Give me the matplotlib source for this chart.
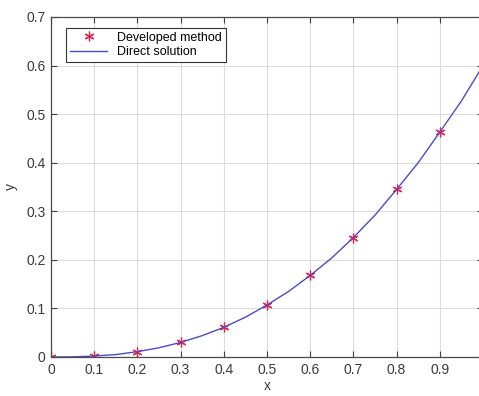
import numpy as np
import matplotlib
matplotlib.use('Agg')
import matplotlib.pyplot as plt

plt.rcParams['font.family'] = ['Liberation Sans', 'DejaVu Sans']

# developed method (markers)
x_dev = [0.0, 0.1, 0.2, 0.3, 0.4, 0.5, 0.6, 0.7, 0.8, 0.9]
y_dev = [0.0, 0.002, 0.011, 0.030, 0.061, 0.107, 0.168, 0.246, 0.345, 0.463]

# direct solution (line)
x_dir = [0.0, 0.05, 0.1, 0.15, 0.2, 0.25, 0.3, 0.35, 0.4, 0.45, 0.5,
         0.55, 0.6, 0.65, 0.7, 0.75, 0.8, 0.85, 0.9, 0.95, 1.0]
y_dir = [0.0, 0.0003, 0.002, 0.005, 0.011, 0.019, 0.030, 0.044, 0.061, 0.082, 0.107,
         0.135, 0.168, 0.204, 0.246, 0.292, 0.345, 0.400, 0.463, 0.527, 0.600]

legends = ['Developed method', 'Direct solution']

fig = plt.figure(figsize=(4.79, 3.96), dpi=100)
ax = fig.add_axes([51 / 479, 39 / 396, 432 / 479, 340 / 396])

ax.plot(x_dev, y_dev, linestyle='none', marker=(6, 2, 0), markersize=7,
        color='#e8204a', markeredgewidth=0.9, label=legends[0])
ax.plot(x_dir, y_dir, color='#4b4bc8', linewidth=1.0, label=legends[1])

ax.set_xlim(0, 1)
ax.set_ylim(0, 0.7)
ax.set_xticks(np.arange(0, 1.01, 0.1))
ax.set_xticklabels(['0', '0.1', '0.2', '0.3', '0.4', '0.5', '0.6', '0.7', '0.8', '0.9', '1'])
ax.set_yticks(np.arange(0, 0.71, 0.1))
ax.set_yticklabels(['0', '0.1', '0.2', '0.3', '0.4', '0.5', '0.6', '0.7'])
ax.grid(True, color='#dcdcdc', linewidth=0.8)
ax.set_axisbelow(True)
ax.tick_params(direction='in', top=True, right=True, length=4, width=0.8,
               labelsize=10, colors='#404040', labelcolor='#3a3a3a', pad=4)
for s in ax.spines.values():
    s.set_color('#4a4a4a')
    s.set_linewidth(0.9)

ax.set_xlabel('x', fontsize=10, color='#3a3a3a', labelpad=2)
ax.set_ylabel('y', fontsize=10, color='#3a3a3a', labelpad=6)

leg = ax.legend(loc='upper left', bbox_to_anchor=(0.035, 0.968), fontsize=9,
                fancybox=False, framealpha=1, edgecolor='#333333',
                borderpad=0.3, labelspacing=0.2, handlelength=3.0, borderaxespad=0)
leg.get_frame().set_linewidth(0.8)

fig.savefig('out.png', dpi=100)
